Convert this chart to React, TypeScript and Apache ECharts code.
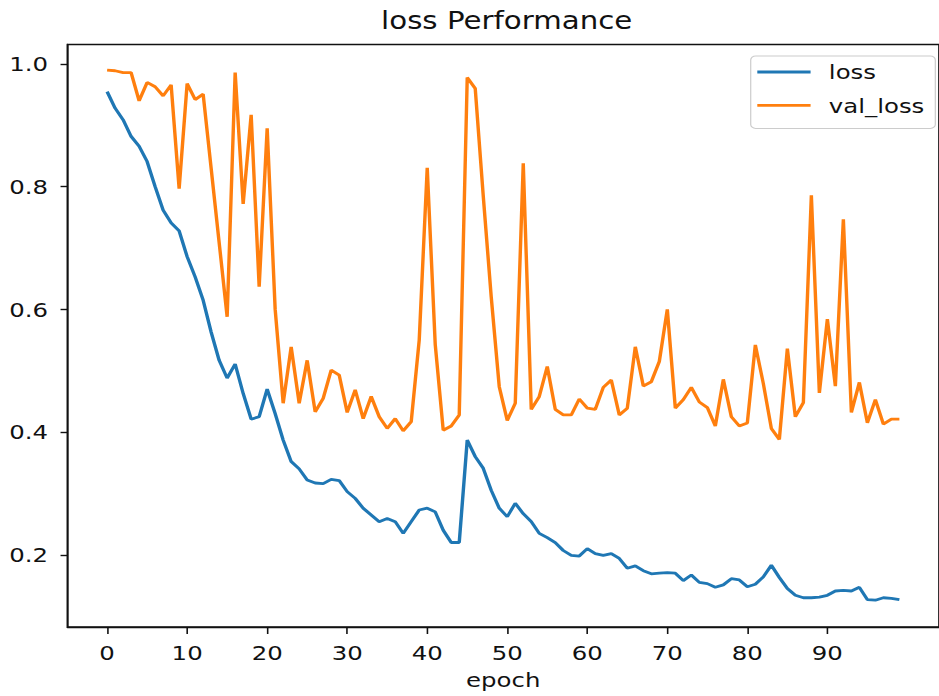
import React, { useEffect, useRef } from "react";
import * as echarts from "echarts";

const lossValues = [
  0.955, 0.928, 0.909, 0.882, 0.866, 0.841, 0.8, 0.762, 0.741, 0.728,
  0.686, 0.653, 0.615, 0.563, 0.517, 0.488, 0.511, 0.463, 0.421, 0.425,
  0.47, 0.43, 0.387, 0.352, 0.34, 0.322, 0.317, 0.316, 0.323, 0.321,
  0.303, 0.292, 0.276, 0.265, 0.254, 0.259, 0.254, 0.235, 0.254, 0.273,
  0.276, 0.27, 0.24, 0.22, 0.22, 0.387, 0.36, 0.341, 0.305, 0.276,
  0.262, 0.284, 0.267, 0.254, 0.235, 0.228, 0.22, 0.207, 0.199, 0.198,
  0.21, 0.202, 0.199, 0.202, 0.194, 0.178, 0.182, 0.174, 0.169, 0.17,
  0.171, 0.17, 0.158, 0.167, 0.155, 0.153, 0.147, 0.151, 0.161, 0.159,
  0.148, 0.152, 0.164, 0.183, 0.163, 0.145, 0.134, 0.13, 0.13, 0.131,
  0.134, 0.141, 0.142, 0.141, 0.147, 0.127, 0.126, 0.13, 0.129, 0.127,
];

const valLossValues = [
  0.99, 0.989, 0.986, 0.986, 0.94, 0.97, 0.963, 0.948, 0.966, 0.797,
  0.968, 0.942, 0.951, 0.83, 0.709, 0.588, 0.986, 0.772, 0.917, 0.637,
  0.895, 0.6, 0.447, 0.539, 0.447, 0.517, 0.433, 0.455, 0.501, 0.493,
  0.432, 0.469, 0.422, 0.458, 0.425, 0.406, 0.422, 0.402, 0.417, 0.55,
  0.831, 0.543, 0.403, 0.41, 0.428, 0.978, 0.96, 0.785, 0.62, 0.474,
  0.419, 0.447, 0.838, 0.437, 0.458, 0.507, 0.437, 0.428, 0.428, 0.454,
  0.439, 0.437, 0.473, 0.485, 0.428, 0.439, 0.539, 0.475, 0.482, 0.515,
  0.6, 0.439, 0.453, 0.473, 0.449, 0.44, 0.41, 0.486, 0.425, 0.41,
  0.415, 0.542, 0.479, 0.406, 0.388, 0.536, 0.425, 0.448, 0.786, 0.464,
  0.584, 0.475, 0.747, 0.432, 0.481, 0.415, 0.453, 0.413, 0.421, 0.421,
];

const xTicks = [0, 10, 20, 30, 40, 50, 60, 70, 80, 90];
const yTicks = [0.2, 0.4, 0.6, 0.8, 1.0];
const seriesNames = ["loss", "val_loss"];

const FONT = "DejaVu Sans";
const TEXT = "#111";
const INNER_W = 770;
const SCALE = 939 / INNER_W;

export default function App() {
  const ref = useRef<HTMLDivElement>(null);

  useEffect(() => {
    document.body.style.margin = "0";
    if (!ref.current) return;
    const chart = echarts.init(ref.current, undefined, { renderer: "svg" });
    const toPairs = (arr: number[]) => arr.map((v, i) => [i, v]);
    chart.setOption({
      animation: false,
      backgroundColor: "#fff",
      title: {
        text: "loss Performance",
        left: 415.5,
        textAlign: "center",
        top: 8,
        padding: 0,
        textStyle: { fontFamily: FONT, fontSize: 24, fontWeight: "normal", color: TEXT },
      },
      legend: {
        data: seriesNames,
        orient: "vertical",
        left: 615.6,
        top: 56,
        padding: [3, 9, 10, 5.4],
        itemGap: 7.4,
        itemWidth: 43.7,
        itemHeight: 2.8,
        icon: "rect",
        selectedMode: false,
        borderColor: "#cccccc",
        borderWidth: 1,
        borderRadius: 4,
        backgroundColor: "rgba(255,255,255,0.8)",
        textStyle: {
          fontFamily: FONT,
          fontSize: 20,
          lineHeight: 26,
          color: TEXT,
          padding: [0, 0, 0, 10],
        },
      },
      grid: {
        left: 55.35,
        top: 44.5,
        width: 720.4,
        height: 582.5,
        show: true,
        borderColor: TEXT,
        borderWidth: 1.4,
        backgroundColor: "transparent",
      },
      xAxis: {
        type: "value",
        min: -4.95,
        max: 103.95,
        name: "epoch",
        nameLocation: "middle",
        nameGap: 43,
        nameTextStyle: { fontFamily: FONT, fontSize: 20, color: TEXT },
        axisLine: { show: true, onZero: false, lineStyle: { color: TEXT, width: 1.4 } },
        axisTick: { show: true, length: 7, customValues: xTicks, lineStyle: { color: TEXT, width: 1.3 } },
        axisLabel: {
          customValues: xTicks,
          fontFamily: FONT,
          fontSize: 20,
          color: TEXT,
          margin: 16,
          formatter: (v: number) => String(v),
        },
        splitLine: { show: false },
      },
      yAxis: {
        type: "value",
        min: 0.0823,
        max: 1.0318,
        axisLine: { show: true, onZero: false, lineStyle: { color: TEXT, width: 1.4 } },
        axisTick: { show: true, length: 5.7, customValues: yTicks, lineStyle: { color: TEXT, width: 1.4 } },
        axisLabel: {
          customValues: yTicks,
          fontFamily: FONT,
          fontSize: 20,
          color: TEXT,
          margin: 16,
          formatter: (v: number) => v.toFixed(1),
        },
        splitLine: { show: false },
      },
      series: [
        {
          name: seriesNames[0],
          type: "line",
          data: toPairs(lossValues),
          showSymbol: false,
          color: "#1f77b4",
          lineStyle: { width: 2.8, color: "#1f77b4" },
        },
        {
          name: seriesNames[1],
          type: "line",
          data: toPairs(valLossValues),
          showSymbol: false,
          color: "#ff7f0e",
          lineStyle: { width: 2.8, color: "#ff7f0e" },
        },
      ],
    });
    return () => chart.dispose();
  }, []);

  return (
    <div style={{ width: 939, height: 696, overflow: "hidden", background: "#fff" }}>
      <div
        ref={ref}
        style={{
          width: INNER_W,
          height: 696,
          transform: `scaleX(${SCALE})`,
          transformOrigin: "0 0",
        }}
      />
    </div>
  );
}
